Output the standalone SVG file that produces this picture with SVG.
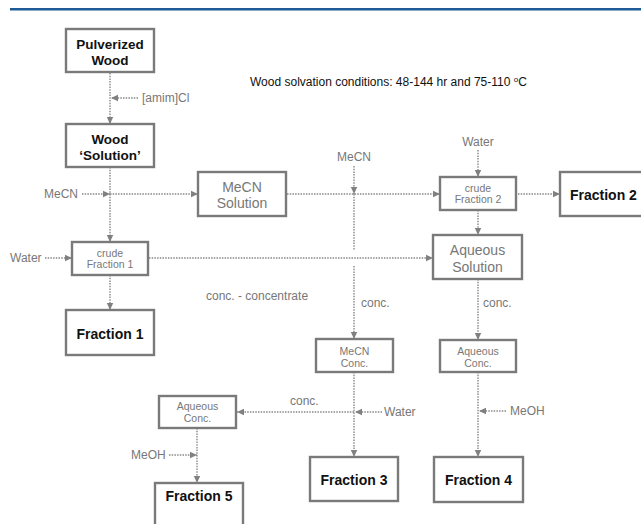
<svg xmlns="http://www.w3.org/2000/svg" width="641" height="524" viewBox="0 0 641 524">
<defs>
<style>
.box{fill:#fff;stroke:#7a7a7a;stroke-width:2.4}
.b{font-family:"Liberation Sans",Arial,sans-serif;font-weight:bold;fill:#111;text-anchor:middle}
.g{font-family:"Liberation Sans",Arial,sans-serif;fill:#777;}
.gm{font-family:"Liberation Sans",Arial,sans-serif;fill:#777;text-anchor:middle}
.c line{stroke:#888;stroke-width:1.4;stroke-dasharray:1.5,1.2;fill:none}
.c line.a{marker-end:url(#ar)}
</style>
<marker id="ar" markerUnits="userSpaceOnUse" markerWidth="8" markerHeight="8" viewBox="0 0 8 8" refX="7" refY="4" orient="auto">
<path d="M0,0.8 L7,4 L0,7.2 Z" fill="#808080"/>
</marker>
</defs>
<rect width="641" height="524" fill="#fff"/>
<line x1="10" y1="9.3" x2="641" y2="9.3" stroke="#1d5a96" stroke-width="2.5"/>

<text x="250" y="86" font-family="Liberation Sans,Arial,sans-serif" font-size="12" fill="#111">Wood solvation conditions: 48-144 hr and 75-110 <tspan font-size="8" dy="-4">o</tspan><tspan dy="4">C</tspan></text>

<g class="c" id="connectors">
<line class="a" x1="110" y1="73" x2="110" y2="124"/>
<line class="a" x1="138" y1="98" x2="111" y2="98"/>
<line class="a" x1="110" y1="167" x2="110" y2="242"/>
<line class="a" x1="82" y1="194" x2="110" y2="194"/>
<line class="a" x1="110" y1="194" x2="198" y2="194"/>
<line class="a" x1="287" y1="194" x2="440" y2="194"/>
<line class="a" x1="518" y1="194" x2="560" y2="194"/>
<line class="a" x1="45" y1="258" x2="72" y2="258"/>
<line class="a" x1="149" y1="258" x2="433" y2="258"/>
<line class="a" x1="110" y1="275" x2="110" y2="310"/>
<line class="a" x1="354" y1="166" x2="354" y2="194"/>
<line x1="354" y1="194" x2="354" y2="250"/>
<line class="a" x1="354" y1="266" x2="354" y2="339"/>
<line class="a" x1="478" y1="150" x2="478" y2="177"/>
<line class="a" x1="478" y1="210" x2="478" y2="235"/>
<line class="a" x1="478" y1="279" x2="478" y2="340"/>
<line class="a" x1="478" y1="372" x2="478" y2="457"/>
<line class="a" x1="506" y1="411" x2="479" y2="411"/>
<line class="a" x1="354" y1="372" x2="354" y2="457"/>
<line class="a" x1="382" y1="412" x2="355" y2="412"/>
<line class="a" x1="354" y1="412" x2="237" y2="412"/>
<line class="a" x1="197" y1="428" x2="197" y2="483"/>
<line class="a" x1="169" y1="455" x2="197" y2="455"/>
</g>

<g id="labels">
<text class="g" x="142" y="102" font-size="12">[amim]Cl</text>
<text class="g" x="44" y="198" font-size="12">MeCN</text>
<text class="g" x="10" y="262" font-size="12">Water</text>
<text class="gm" x="354" y="161" font-size="12">MeCN</text>
<text class="gm" x="478" y="146" font-size="12">Water</text>
<text class="g" x="206" y="300" font-size="12">conc. - concentrate</text>
<text class="g" x="361" y="307" font-size="12">conc.</text>
<text class="g" x="483" y="307" font-size="12">conc.</text>
<text class="g" x="290" y="405" font-size="12">conc.</text>
<text class="g" x="384" y="416" font-size="12">Water</text>
<text class="g" x="131" y="459" font-size="12">MeOH</text>
<text class="g" x="510" y="415" font-size="12">MeOH</text>
</g>

<g id="pulverized-wood">
<rect class="box" x="66" y="29" width="88" height="43"/>
<text class="b" x="110" y="49" font-size="13.5">Pulverized</text>
<text class="b" x="110" y="65" font-size="13.5">Wood</text>
</g>
<g id="wood-solution">
<rect class="box" x="66" y="124" width="88" height="43"/>
<text class="b" x="110" y="144" font-size="13.5">Wood</text>
<text class="b" x="110" y="160" font-size="13.5">‘Solution’</text>
</g>
<g id="mecn-solution">
<rect class="box" x="198" y="172" width="88" height="44"/>
<text class="gm" x="242" y="192" font-size="14">MeCN</text>
<text class="gm" x="242" y="208" font-size="14">Solution</text>
</g>
<g id="crude-fraction-1">
<rect class="box" x="72" y="242" width="76" height="33"/>
<text class="gm" x="110" y="256.5" font-size="10.5">crude</text>
<text class="gm" x="110" y="268" font-size="10.5">Fraction 1</text>
</g>
<g id="fraction-1">
<rect class="box" x="66" y="310" width="88" height="45"/>
<text class="b" x="110" y="339" font-size="14">Fraction 1</text>
</g>
<g id="crude-fraction-2">
<rect class="box" x="440" y="177" width="76" height="33"/>
<text class="gm" x="478" y="191.5" font-size="10.5">crude</text>
<text class="gm" x="478" y="203" font-size="10.5">Fraction 2</text>
</g>
<g id="fraction-2">
<rect class="box" x="560" y="172" width="90" height="44"/>
<text class="b" x="570" y="200" font-size="14" style="text-anchor:start">Fraction 2</text>
</g>
<g id="aqueous-solution">
<rect class="box" x="433" y="235" width="89" height="44"/>
<text class="gm" x="477.5" y="255" font-size="14">Aqueous</text>
<text class="gm" x="477.5" y="272" font-size="14">Solution</text>
</g>
<g id="mecn-conc">
<rect class="box" x="316" y="339" width="77" height="33"/>
<text class="gm" x="354.5" y="355" font-size="10.5">MeCN</text>
<text class="gm" x="354.5" y="367" font-size="10.5">Conc.</text>
</g>
<g id="aqueous-conc-right">
<rect class="box" x="440" y="340" width="76" height="32"/>
<text class="gm" x="478" y="355" font-size="10.5">Aqueous</text>
<text class="gm" x="478" y="367" font-size="10.5">Conc.</text>
</g>
<g id="aqueous-conc-left">
<rect class="box" x="159" y="396" width="77" height="32"/>
<text class="gm" x="197.5" y="410" font-size="10.5">Aqueous</text>
<text class="gm" x="197.5" y="422" font-size="10.5">Conc.</text>
</g>
<g id="fraction-3">
<rect class="box" x="310" y="457" width="88" height="44"/>
<text class="b" x="354" y="485" font-size="14">Fraction 3</text>
</g>
<g id="fraction-4">
<rect class="box" x="434" y="457" width="89" height="45"/>
<text class="b" x="478.5" y="485" font-size="14">Fraction 4</text>
</g>
<g id="fraction-5">
<rect class="box" x="155" y="483" width="88" height="45"/>
<text class="b" x="199" y="501" font-size="14">Fraction 5</text>
</g>
</svg>
